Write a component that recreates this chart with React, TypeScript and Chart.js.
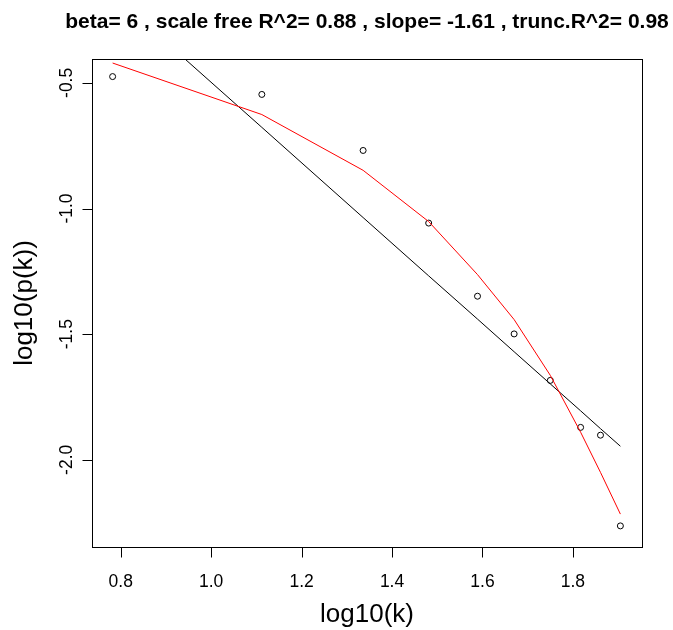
import React, { useEffect, useRef } from "react";
import { Chart, registerables } from "chart.js";

Chart.register(...registerables);

const logK = [0.782, 1.112, 1.336, 1.481, 1.589, 1.67, 1.75, 1.817, 1.861, 1.905];
const logPk = [-0.475, -0.546, -0.769, -1.058, -1.349, -1.499, -1.684, -1.871, -1.902, -2.263];
const truncFit = [-0.421, -0.626, -0.848, -1.052, -1.263, -1.442, -1.664, -1.89, -2.05, -2.216];
const linearFit = [-0.149, -0.677, -1.036, -1.268, -1.44, -1.57, -1.698, -1.805, -1.876, -1.946];

const xTicks = [0.8, 1.0, 1.2, 1.4, 1.6, 1.8];
const xTickLabels = ["0.8", "1.0", "1.2", "1.4", "1.6", "1.8"];
const yTicks = [-2.0, -1.5, -1.0, -0.5];
const yTickLabels = ["-2.0", "-1.5", "-1.0", "-0.5"];

const titleText = "beta= 6 , scale free R^2= 0.88 , slope= -1.61 , trunc.R^2= 0.98";
const xTitle = "log10(k)";
const yTitle = "log10(p(k))";

const FONT = '"Liberation Sans", Arial, Helvetica, sans-serif';

export default function App() {
  const ref = useRef<HTMLCanvasElement | null>(null);

  useEffect(() => {
    document.body.style.margin = "0";
    const canvas = ref.current;
    if (!canvas) return;

    const pts = (ys: number[]) => logK.map((x, i) => ({ x, y: ys[i] }));

    const rPlot = {
      id: "rplot",
      afterDraw(chart: any) {
        const ctx = chart.ctx as CanvasRenderingContext2D;
        const a = chart.chartArea;
        const xs = chart.scales.x;
        const ys = chart.scales.y;
        ctx.save();
        ctx.strokeStyle = "#000";
        ctx.lineWidth = 1;
        // box
        ctx.strokeRect(Math.round(a.left) + 0.5, Math.round(a.top) + 0.5, Math.round(a.right - a.left), Math.round(a.bottom - a.top));
        const bottom = Math.round(a.bottom) + 0.5;
        const left = Math.round(a.left) + 0.5;
        // x axis
        ctx.beginPath();
        const x0 = Math.round(xs.getPixelForValue(xTicks[0])) + 0.5;
        const x1 = Math.round(xs.getPixelForValue(xTicks[xTicks.length - 1])) + 0.5;
        ctx.moveTo(x0, bottom);
        ctx.lineTo(x1, bottom);
        xTicks.forEach((v) => {
          const px = Math.round(xs.getPixelForValue(v)) + 0.5;
          ctx.moveTo(px, bottom);
          ctx.lineTo(px, bottom + 10);
        });
        // y axis
        const y0 = Math.round(ys.getPixelForValue(yTicks[0])) + 0.5;
        const y1 = Math.round(ys.getPixelForValue(yTicks[yTicks.length - 1])) + 0.5;
        ctx.moveTo(left, y0);
        ctx.lineTo(left, y1);
        yTicks.forEach((v) => {
          const py = Math.round(ys.getPixelForValue(v)) + 0.5;
          ctx.moveTo(left, py);
          ctx.lineTo(left - 10, py);
        });
        ctx.stroke();

        ctx.fillStyle = "#000";
        // x tick labels
        ctx.font = `17.5px ${FONT}`;
        ctx.textAlign = "center";
        ctx.textBaseline = "alphabetic";
        xTicks.forEach((v, i) => {
          ctx.fillText(xTickLabels[i], xs.getPixelForValue(v), 586.5);
        });
        // y tick labels (rotated)
        yTicks.forEach((v, i) => {
          ctx.save();
          ctx.translate(72, ys.getPixelForValue(v));
          ctx.rotate(-Math.PI / 2);
          ctx.fillText(yTickLabels[i], 0, 0);
          ctx.restore();
        });
        // axis titles
        const cx = (a.left + a.right) / 2;
        const cy = (a.top + a.bottom) / 2;
        ctx.font = `26px ${FONT}`;
        ctx.fillText(xTitle, cx, 622);
        ctx.save();
        ctx.translate(32, cy);
        ctx.rotate(-Math.PI / 2);
        ctx.fillText(yTitle, 0, 0);
        ctx.restore();
        // main title
        ctx.font = `bold 21px ${FONT}`;
        ctx.fillText(titleText, cx, 28);
        ctx.restore();
      },
    };

    const chart = new Chart(canvas, {
      type: "scatter",
      data: {
        datasets: [
          {
            label: "truncated fit",
            data: pts(truncFit),
            showLine: true,
            borderColor: "#ff0000",
            borderWidth: 1,
            pointRadius: 0,
            fill: false,
          },
          {
            label: "linear fit",
            data: pts(linearFit),
            showLine: true,
            borderColor: "#000000",
            borderWidth: 1,
            pointRadius: 0,
            fill: false,
          },
          {
            label: "log10(p(k))",
            data: pts(logPk),
            showLine: false,
            pointStyle: "circle",
            pointRadius: 3,
            pointBorderWidth: 1,
            borderColor: "#000000",
            backgroundColor: "rgba(0,0,0,0)",
            pointBackgroundColor: "rgba(0,0,0,0)",
          },
        ],
      },
      options: {
        responsive: false,
        animation: false,
        layout: { padding: { left: 92, right: 31, top: 59, bottom: 83 } },
        plugins: { legend: { display: false }, tooltip: { enabled: false }, title: { display: false } },
        scales: {
          x: { type: "linear", min: 0.7364, max: 1.9528, display: false },
          y: { type: "linear", min: -2.347, max: -0.405, display: false },
        },
      },
      plugins: [rPlot],
    });

    return () => chart.destroy();
  }, []);

  return (
    <div style={{ width: 673, height: 630, background: "#fff" }}>
      <canvas ref={ref} width={673} height={630} style={{ display: "block" }} />
    </div>
  );
}
